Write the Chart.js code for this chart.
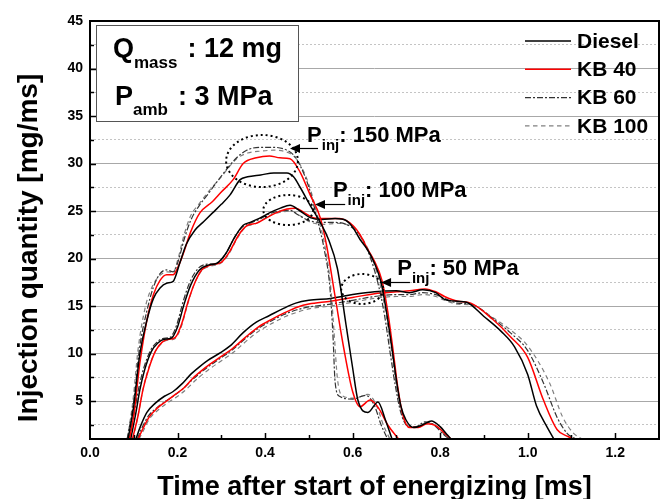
<!DOCTYPE html>
<html>
<head>
<meta charset="utf-8">
<script src="https://cdn.jsdelivr.net/npm/chart.js@4.4.1/dist/chart.umd.min.js"></script>
<style>
  html, body { margin: 0; padding: 0; background: #fff; }
</style>
</head>
<body>
<canvas id="injChart" width="668" height="499"></canvas>
<script>
// fuels in legend order
const fuels = ['Diesel', 'KB 40', 'KB 60', 'KB 100'];

// P_inj 150 MPa
const t150Diesel = [0.087,0.1,0.114,0.13,0.145,0.16,0.175,0.19,0.205,0.22,0.24,0.26,0.28,0.3,0.32,0.343,0.36,0.39,0.42,0.45,0.465,0.48,0.503,0.526,0.545,0.565,0.585,0.6,0.612,0.635,0.658,0.675,0.69];
const q150Diesel = [1,4.5,10,13.5,15.8,16.9,17.4,17.6,19.5,21.5,23,23.9,24.8,25.7,26.7,28.3,28.6,28.8,29,29,28.6,27.5,25.6,23.8,22,19,13,8.5,5.1,3.8,4.9,3,1];
const t150KB40 = [0.09,0.1,0.114,0.13,0.145,0.16,0.175,0.19,0.2,0.213,0.23,0.251,0.28,0.3,0.327,0.35,0.38,0.41,0.434,0.457,0.48,0.503,0.526,0.54,0.56,0.58,0.6,0.617,0.64,0.66,0.68,0.705];
const q150KB40 = [1,3.5,9,13.5,16.2,17.7,18.3,18.3,19,20.5,22.8,24.8,26,27,28.3,30,30.6,30.8,30.6,30.5,29.1,26.7,24.3,21.5,16,10.5,6,4.4,5.1,4.2,2.5,1];
const t150KB60 = [0.085,0.1,0.113,0.13,0.145,0.16,0.175,0.19,0.2,0.215,0.23,0.25,0.27,0.297,0.335,0.358,0.389,0.42,0.45,0.465,0.48,0.5,0.52,0.535,0.548,0.555,0.56,0.57,0.6,0.63,0.65,0.665,0.68];
const q150KB60 = [1,5,10.5,14.5,17,18.4,18.8,18.6,19.5,22,24,25.6,26.8,28.5,30.6,31.4,31.7,31.7,31.4,30.9,29.8,27.5,24,21,17,12,7,5.5,5.2,5.6,4.5,2.5,1];
const t150KB100 = [0.085,0.098,0.11,0.127,0.145,0.162,0.178,0.19,0.2,0.215,0.23,0.25,0.27,0.3,0.335,0.36,0.39,0.42,0.45,0.465,0.48,0.5,0.52,0.538,0.55,0.558,0.565,0.575,0.605,0.635,0.655,0.67,0.685];
const q150KB100 = [1,5,10.5,15,17.3,18.3,18.6,18.5,19.8,22.5,24.5,25.8,27,28.6,30.5,31.1,31.3,31.4,31.2,30.8,29.9,27.8,24.5,21,17,12,7.5,5.6,5.3,5.7,4.5,2.5,1];

// P_inj 100 MPa
const t100Diesel = [0.093,0.105,0.114,0.125,0.14,0.155,0.17,0.185,0.2,0.215,0.23,0.25,0.27,0.29,0.31,0.33,0.35,0.366,0.39,0.41,0.435,0.457,0.48,0.503,0.53,0.56,0.585,0.6,0.617,0.633,0.65,0.665,0.677,0.69,0.7,0.71,0.722,0.74,0.76,0.78,0.8,0.815,0.825];
const q100Diesel = [1,3.8,6.2,8.3,10.2,11.1,11.5,11.6,12.8,15.2,17.2,18.8,19.3,19.5,20.5,22.2,23.5,23.8,24.3,24.8,25.3,25.6,25,24.3,24.1,24.2,24,23.3,22,21,19.5,17.5,14.5,10.5,7.2,4.5,3,2.2,2.5,2.9,2.3,1.5,1];
const t100KB40 = [0.097,0.11,0.121,0.135,0.15,0.165,0.18,0.195,0.21,0.225,0.24,0.255,0.275,0.3,0.32,0.34,0.36,0.38,0.4,0.425,0.45,0.47,0.49,0.51,0.54,0.57,0.6,0.617,0.633,0.65,0.667,0.68,0.692,0.703,0.715,0.73,0.75,0.77,0.79,0.81,0.825];
const q100KB40 = [1,3.5,6.2,8.5,10.3,11.2,11.5,11.7,13.2,15.6,17.5,18.8,19.3,19.6,20.8,22.5,23.5,23.7,24.2,24.8,25.2,25.3,24.8,24.3,24.2,24.2,23.5,22.5,21.1,19.7,17.7,14.5,10.5,6.5,3.5,2.2,2.2,2.6,2.4,1.6,1];
const t100KB60 = [0.09,0.102,0.112,0.123,0.138,0.153,0.168,0.183,0.198,0.213,0.228,0.248,0.268,0.29,0.31,0.33,0.35,0.37,0.39,0.41,0.435,0.455,0.475,0.5,0.53,0.56,0.59,0.61,0.628,0.645,0.66,0.673,0.686,0.698,0.71,0.725,0.745,0.765,0.785,0.805,0.82];
const q100KB60 = [1,4,6.5,8.5,10.3,11.2,11.6,11.7,13,15.5,17.5,19,19.4,19.5,20.5,22.2,23.4,23.8,24.2,24.7,25,25.1,24.6,24,23.8,23.8,23.5,22.8,21.5,19.5,17,14,10,6.5,3.8,2.4,2.3,2.8,2.5,1.6,1];
const t100KB100 = [0.098,0.11,0.12,0.132,0.147,0.162,0.177,0.192,0.207,0.222,0.237,0.255,0.275,0.295,0.315,0.335,0.355,0.375,0.395,0.415,0.44,0.46,0.48,0.505,0.535,0.565,0.595,0.615,0.632,0.648,0.663,0.676,0.689,0.7,0.712,0.727,0.747,0.767,0.787,0.807,0.822];
const q100KB100 = [1,3.5,6,8.2,10,11,11.4,11.5,12.6,15,17.2,18.7,19.2,19.4,20.3,22,23.3,23.6,24.1,24.6,24.9,25,24.5,23.8,23.6,23.7,23.4,22.6,21.3,19.6,17.2,14.2,10.2,6.6,3.8,2.4,2.3,2.7,2.5,1.6,1];

// P_inj 50 MPa
const t50Diesel = [0.105,0.115,0.13,0.15,0.17,0.19,0.21,0.23,0.25,0.27,0.295,0.32,0.35,0.38,0.41,0.44,0.47,0.5,0.55,0.6,0.65,0.7,0.73,0.76,0.79,0.81,0.84,0.86,0.9,0.94,0.97,1.0,1.02,1.045,1.06];
const q50Diesel = [1,2.3,3.8,4.8,5.5,6.0,6.8,7.8,8.6,9.3,10,10.8,12.2,13.3,14,14.7,15.3,15.6,15.8,16.2,16.5,16.6,16.4,16.7,16.4,15.7,15.5,15.4,13.9,12.3,10.7,7.8,4.5,2.2,1];
const t50KB40 = [0.11,0.12,0.135,0.155,0.175,0.195,0.215,0.235,0.255,0.275,0.3,0.325,0.355,0.385,0.415,0.445,0.475,0.5,0.55,0.6,0.65,0.7,0.73,0.765,0.79,0.81,0.84,0.87,0.92,0.96,1.0,1.036,1.067,1.09,1.105];
const q50KB40 = [1,2,3.3,4.3,5.0,5.7,6.4,7.4,8.2,8.9,9.7,10.5,11.7,12.8,13.6,14.3,14.9,15.2,15.5,15.9,16.3,16.5,16.6,16.8,16.5,16,15.5,15.3,13.6,11.8,9.6,5.1,2,1.3,1];
const t50KB60 = [0.108,0.118,0.133,0.153,0.173,0.193,0.213,0.233,0.253,0.273,0.298,0.323,0.353,0.383,0.413,0.443,0.473,0.5,0.55,0.6,0.65,0.7,0.73,0.76,0.79,0.81,0.84,0.87,0.92,0.96,1.0,1.036,1.067,1.09,1.11];
const q50KB60 = [1,2.1,3.4,4.3,5.0,5.6,6.3,7.2,8.0,8.7,9.5,10.3,11.5,12.6,13.4,14.1,14.6,14.9,15.2,15.6,16,16.2,16.2,16.4,16.2,15.8,15.3,15.2,13.7,12.2,10.3,6.9,3.3,1.6,1];
const t50KB100 = [0.112,0.122,0.137,0.157,0.177,0.197,0.217,0.237,0.257,0.277,0.302,0.327,0.357,0.387,0.417,0.447,0.477,0.5,0.55,0.6,0.65,0.7,0.73,0.76,0.79,0.81,0.84,0.87,0.92,0.96,1.0,1.05,1.08,1.105,1.125];
const q50KB100 = [1,1.9,3.2,4.1,4.8,5.4,6.1,7.0,7.8,8.5,9.3,10.1,11.3,12.4,13.2,13.9,14.4,14.7,15.0,15.4,15.8,16.0,16.0,16.2,16.0,15.6,15.2,15.1,13.8,12.5,10.8,6.9,3.3,1.6,1];

// axis ranges / ticks
const xMin = 0, xMax = 1.3, xStep = 0.1;
const yMin = 1, yMax = 45, yStep = 2.5;

const styles = {
  'Diesel': { color: '#000000', width: 1.5, dash: [] },
  'KB 40': { color: '#ff0000', width: 1.5, dash: [] },
  'KB 60': { color: '#333333', width: 1.2, dash: [6, 2, 2, 2] },
  'KB 100': { color: '#808080', width: 1.2, dash: [4.5, 3.5] }
};

const series = [
  ['Diesel', t150Diesel, q150Diesel], ['KB 40', t150KB40, q150KB40], ['KB 60', t150KB60, q150KB60], ['KB 100', t150KB100, q150KB100],
  ['Diesel', t100Diesel, q100Diesel], ['KB 40', t100KB40, q100KB40], ['KB 60', t100KB60, q100KB60], ['KB 100', t100KB100, q100KB100],
  ['Diesel', t50Diesel, q50Diesel], ['KB 40', t50KB40, q50KB40], ['KB 60', t50KB60, q50KB60], ['KB 100', t50KB100, q50KB100]
];

const datasets = series.map(([fuel, t, q]) => ({
  label: fuel,
  data: t.map((x, i) => ({ x: x, y: q[i] })),
  borderColor: styles[fuel].color,
  borderWidth: styles[fuel].width,
  borderDash: styles[fuel].dash,
  pointRadius: 0,
  fill: false,
  cubicInterpolationMode: 'monotone'
}));

// P_inj callouts, in data units
const callouts = [
  { text: ': 150 MPa', cx: 0.393, cy: 30.26, rx: 0.082, ry: 2.74, tipX: 0.457, tailX: 0.521, arrowY: 31.6, labelX: 0.496, labelY: 32.26 },
  { text: ': 100 MPa', cx: 0.453, cy: 25.1, rx: 0.057, ry: 1.58, tipX: 0.514, tailX: 0.583, arrowY: 25.74, labelX: 0.555, labelY: 26.47 },
  { text: ': 50 MPa', cx: 0.622, cy: 16.79, rx: 0.048, ry: 1.58, tipX: 0.665, tailX: 0.731, arrowY: 17.53, labelX: 0.702, labelY: 18.26 }
];

const FONT = '"Liberation Sans", Arial, sans-serif';
const isMult = (v, s) => Math.abs(v / s - Math.round(v / s)) < 1e-6;

function subText(ctx, x, y, main, sub, rest, big, small, drop, gap) {
  ctx.font = 'bold ' + big + 'px ' + FONT;
  ctx.fillText(main, x, y);
  x += ctx.measureText(main).width;
  ctx.font = 'bold ' + small + 'px ' + FONT;
  ctx.fillText(sub, x, y + drop);
  x += ctx.measureText(sub).width + gap;
  ctx.font = 'bold ' + big + 'px ' + FONT;
  ctx.fillText(rest, x, y);
}

const extras = {
  id: 'extras',
  afterDraw(chart) {
    const { ctx, chartArea: a, scales: { x, y } } = chart;
    ctx.save();
    ctx.fillStyle = '#000';
    ctx.strokeStyle = '#000';
    ctx.setLineDash([]);

    // inward ticks
    ctx.lineWidth = 1.5;
    y.ticks.forEach(tk => {
      if (tk.value <= yMin || tk.value >= yMax) return;
      const py = Math.round(y.getPixelForValue(tk.value)) + 0.5;
      const len = isMult(tk.value, 5) ? 6 : 4;
      ctx.beginPath(); ctx.moveTo(a.left, py); ctx.lineTo(a.left + len, py); ctx.stroke();
    });
    x.ticks.forEach(tk => {
      if (tk.value <= xMin || tk.value >= xMax - 1e-6) return;
      const px = Math.round(x.getPixelForValue(tk.value)) + 0.5;
      const len = isMult(tk.value, 0.2) ? 6 : 4;
      ctx.beginPath(); ctx.moveTo(px, a.bottom); ctx.lineTo(px, a.bottom - len); ctx.stroke();
    });

    // frame
    ctx.lineWidth = 2;
    ctx.strokeRect(a.left, a.top, a.right - a.left, a.bottom - a.top);

    // condition box
    const bx = a.left + 6, by = a.top + 4;
    ctx.fillStyle = '#fff';
    ctx.fillRect(bx, by, 202, 96);
    ctx.strokeStyle = '#555';
    ctx.lineWidth = 1;
    ctx.strokeRect(bx + 0.5, by + 0.5, 202, 96);
    ctx.fillStyle = '#000';
    ctx.textAlign = 'left';
    ctx.textBaseline = 'alphabetic';
    subText(ctx, bx + 17, by + 32, 'Q', 'mass', ': 12 mg', 27, 17, 11, 10);
    subText(ctx, bx + 19, by + 80, 'P', 'amb', ': 3 MPa', 27, 17, 10, 10);

    // legend
    ctx.font = 'bold 21px ' + FONT;
    ctx.textBaseline = 'middle';
    fuels.forEach((f, i) => {
      const ly = a.top + 20 + i * 28.3;
      const st = styles[f];
      ctx.strokeStyle = st.color;
      ctx.lineWidth = st.width;
      ctx.setLineDash(st.dash);
      ctx.beginPath(); ctx.moveTo(a.right - 134, ly); ctx.lineTo(a.right - 88, ly); ctx.stroke();
      ctx.setLineDash([]);
      ctx.fillStyle = '#000';
      ctx.fillText(f, a.right - 82, ly + 1);
    });

    // callouts
    ctx.textBaseline = 'alphabetic';
    callouts.forEach(c => {
      const cx = x.getPixelForValue(c.cx), cy = y.getPixelForValue(c.cy);
      const rx = Math.abs(x.getPixelForValue(c.cx + c.rx) - cx);
      const ry = Math.abs(y.getPixelForValue(c.cy + c.ry) - cy);
      ctx.strokeStyle = '#000';
      ctx.lineWidth = 2;
      ctx.setLineDash([2, 3]);
      ctx.beginPath(); ctx.ellipse(cx, cy, rx, ry, 0, 0, Math.PI * 2); ctx.stroke();
      ctx.setLineDash([]);

      const tip = x.getPixelForValue(c.tipX), tail = x.getPixelForValue(c.tailX);
      const ay = Math.round(y.getPixelForValue(c.arrowY)) + 0.5;
      ctx.lineWidth = 1.2;
      ctx.beginPath(); ctx.moveTo(tail, ay); ctx.lineTo(tip + 6, ay); ctx.stroke();
      ctx.beginPath(); ctx.moveTo(tip, ay); ctx.lineTo(tip + 10, ay - 4.5); ctx.lineTo(tip + 10, ay + 4.5); ctx.closePath(); ctx.fill();

      subText(ctx, x.getPixelForValue(c.labelX), y.getPixelForValue(c.labelY), 'P', 'inj', c.text, 22, 15, 8, 0);
    });

    // axis titles
    ctx.font = 'bold 27px ' + FONT;
    ctx.textAlign = 'center';
    ctx.fillText('Time after start of energizing [ms]', (a.left + a.right) / 2, 495);
    ctx.save();
    ctx.translate(37, 248);
    ctx.rotate(-Math.PI / 2);
    ctx.font = 'bold 28px ' + FONT;
    ctx.fillText('Injection quantity [mg/ms]', 0, 0);
    ctx.restore();

    ctx.restore();
  }
};

new Chart(document.getElementById('injChart'), {
  type: 'line',
  data: { datasets: datasets },
  options: {
    responsive: false,
    animation: false,
    layout: { padding: { top: 21, right: 9, left: 0, bottom: 0 } },
    plugins: {
      legend: { display: false },
      tooltip: { enabled: false }
    },
    scales: {
      x: {
        type: 'linear',
        min: xMin,
        max: xMax,
        afterFit: s => { s.height = 60; },
        grid: { display: false, drawTicks: false },
        border: { display: false },
        ticks: {
          stepSize: xStep,
          autoSkip: false,
          maxRotation: 0,
          padding: 6,
          color: '#000',
          font: { family: FONT, size: 14, weight: 'bold' },
          callback: v => (isMult(v, 0.2) && v < 1.25 ? v.toFixed(1) : '')
        }
      },
      y: {
        type: 'linear',
        min: yMin,
        max: yMax,
        afterFit: s => { s.width = 90; },
        grid: {
          drawTicks: false,
          lineWidth: 1,
          color: c => (isMult(c.tick.value, 5) ? '#a8a8a8' : '#c4c4c4')
        },
        border: {
          display: false,
          dash: c => (c.tick && !isMult(c.tick.value, 5) ? [2, 2] : [])
        },
        ticks: {
          stepSize: yStep,
          padding: 7,
          color: '#000',
          font: { family: FONT, size: 14, weight: 'bold' },
          callback: v => (isMult(v, 5) ? String(v) : '')
        }
      }
    }
  },
  plugins: [extras]
});
</script>
</body>
</html>
